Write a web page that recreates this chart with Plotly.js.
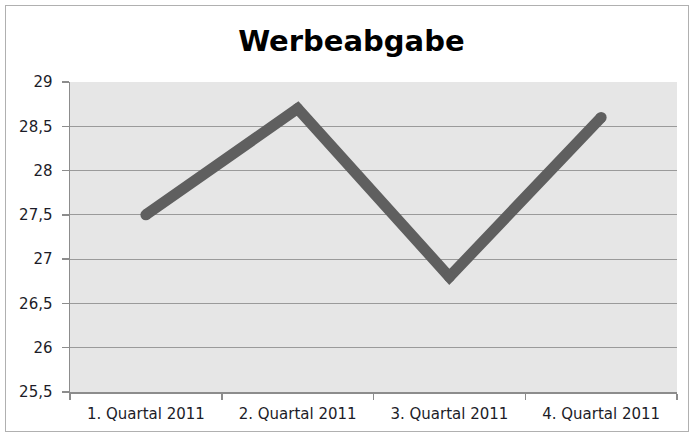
<!DOCTYPE html>
<html><head><meta charset="utf-8">
<script src="https://cdn.plot.ly/plotly-3.0.1.min.js"></script>
<style>
html,body{margin:0;padding:0;background:#fff;}
#wrap{position:relative;width:689px;height:435px;}
#chart{width:689px;height:435px;}
#frame{position:absolute;left:5px;top:5px;width:684px;height:427px;border:1.5px solid #b0b0b0;pointer-events:none;box-sizing:border-box;}
</style></head>
<body>
<div id="wrap"><div id="chart"></div><div id="frame"></div></div>
<script>
const categories = ["1. Quartal 2011", "2. Quartal 2011", "3. Quartal 2011", "4. Quartal 2011"];
const values = [27.5, 28.7, 26.8, 28.6];
const chartTitle = "Werbeabgabe";

const trace = {
  x: categories, y: values, type: 'scatter', mode: 'lines+markers',
  line: {color: '#5f5f5f', width: 11},
  marker: {color: '#5f5f5f', size: 11},
  hoverinfo: 'skip'
};
const layout = {
  width: 689, height: 435,
  margin: {l: 70, r: 12, t: 82, b: 43},
  paper_bgcolor: 'rgba(0,0,0,0)', plot_bgcolor: '#e6e6e6',
  separators: ',.',
  title: {text: chartTitle, x: 0.51, xanchor: 'center', y: 0.905, yanchor: 'middle',
          font: {family: 'DejaVu Sans', size: 29, color: '#000', weight: 'bold'}},
  font: {family: 'DejaVu Sans', size: 15, color: '#1c1c28'},
  showlegend: false,
  xaxis: {type: 'category', showgrid: false, showline: true, linecolor: '#8c8c8c', linewidth: 1.5,
          ticks: 'outside', tickson: 'boundaries', ticklen: 6, tickcolor: '#8c8c8c', tickwidth: 1.5,
          ticklabelstandoff: 7,
          range: [-0.5, 3.5], fixedrange: true, zeroline: false},
  yaxis: {range: [25.5, 29], dtick: 0.5, tick0: 25.5, showgrid: true, gridcolor: '#9a9a9a', gridwidth: 1.2,
          showline: true, linecolor: '#8c8c8c', linewidth: 1.5, ticks: 'outside', ticklen: 7,
          ticklabelstandoff: 6,
          tickcolor: '#8c8c8c', tickwidth: 1.5, zeroline: false, fixedrange: true}
};
Plotly.newPlot('chart', [trace], layout, {staticPlot: true});
</script>
</body></html>
